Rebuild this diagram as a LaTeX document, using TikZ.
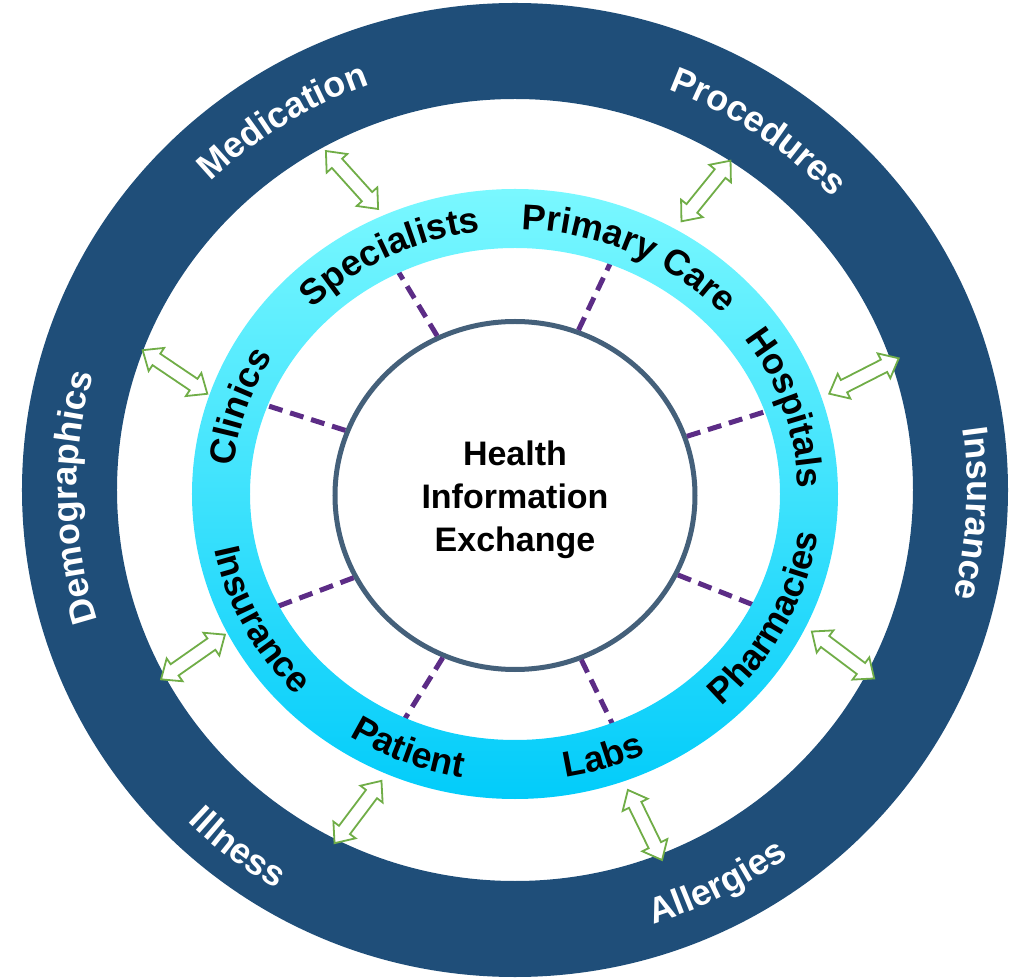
\documentclass[tikz,border=0pt]{standalone}
\usepackage{fontspec}
\setmainfont{Liberation Sans}
\usepackage{tikz}
\usetikzlibrary{shapes,arrows,positioning,decorations.text}
\definecolor{ringblue}{RGB}{31,78,121}
\definecolor{cyantop}{RGB}{122,248,255}
\definecolor{cyanbot}{RGB}{2,204,250}
\definecolor{hubline}{RGB}{68,96,122}
\definecolor{spokepurple}{RGB}{92,44,134}
\definecolor{arrowgreen}{RGB}{112,173,71}
\tikzset{%
outerring/.style={fill=ringblue, even odd rule},
cyanring/.style={top color=cyantop, bottom color=cyanbot, even odd rule},
hub/.style={ellipse, draw=hubline, line width=5pt, fill=white, minimum width=360pt, minimum height=348pt, inner sep=0pt},
hubtext/.style={align=center, font=\bfseries\fontsize{34}{43}\selectfont},
spoke/.style={draw=spokepurple, line width=5pt, dash pattern=on 14pt off 8pt},
link/.style={double arrow, draw=arrowgreen, line width=1.8pt, fill=white, minimum height=78pt, minimum width=26pt, double arrow head extend=7pt, double arrow tip angle=80, inner xsep=0pt, inner ysep=6pt},
intext/.style={decorate, decoration={text along path, text align=center, text={|\bfseries\fontsize{36}{36}\selectfont|#1}}},
outtext/.style={decorate, decoration={text along path, text align=center, text={|\color{white}\bfseries\fontsize{36}{36}\selectfont|#1}}}
}
\begin{document}
\begin{tikzpicture}[x=1pt, y=1pt]
	\useasboundingbox (-515,-489) rectangle (502,490);
	\fill[outerring] (0,0) ellipse [x radius=493pt, y radius=487pt] (0,0) ellipse [x radius=398pt, y radius=391pt];
	
	\node[hub] (hie) at (0,-5.5) {};
	
	\coordinate (rim1) at ([shift={(116:267pt and 248pt)}]0,-4);
	\coordinate (rim2) at ([shift={(69:267pt and 248pt)}]0,-4);
	\coordinate (rim3) at ([shift={(19.5:267pt and 248pt)}]0,-4);
	\coordinate (rim4) at ([shift={(-26.6:267pt and 248pt)}]0,-4);
	\coordinate (rim5) at ([shift={(-68.5:267pt and 248pt)}]0,-4);
	\coordinate (rim6) at ([shift={(-114.5:267pt and 248pt)}]0,-4);
	\coordinate (rim7) at ([shift={(-153:267pt and 248pt)}]0,-4);
	\coordinate (rim8) at ([shift={(159:267pt and 248pt)}]0,-4);
	
	\draw[spoke] (hie.116) -- (rim1);
	\draw[spoke] (hie.69) -- (rim2);
	\draw[spoke] (hie.19.5) -- (rim3);
	\draw[spoke] (hie.-26.6) -- (rim4);
	\draw[spoke] (hie.-68.5) -- (rim5);
	\draw[spoke] (hie.-114.5) -- (rim6);
	\draw[spoke] (hie.-153) -- (rim7);
	\draw[spoke] (hie.159) -- (rim8);
	
	\shade[cyanring] (0,-4) ellipse [x radius=323pt, y radius=305pt] (0,-4) ellipse [x radius=265pt, y radius=246pt];
	
	\path[intext={Specialists}] ([shift={(167:283pt and 264.5pt)}]0,-4) arc [start angle=167, end angle=67, x radius=283pt, y radius=264.5pt];
	\path[intext={Primary Care}] ([shift={(115:283pt and 264.5pt)}]0,-4) arc [start angle=115, end angle=15, x radius=283pt, y radius=264.5pt];
	\path[intext={Hospitals}] ([shift={(68:283pt and 264.5pt)}]0,-4) arc [start angle=68, end angle=-32, x radius=283pt, y radius=264.5pt];
	\path[intext={Clinics}] ([shift={(212:283pt and 264.5pt)}]0,-4) arc [start angle=212, end angle=112, x radius=283pt, y radius=264.5pt];
	\path[intext={Pharmacies}] ([shift={(-77:306pt and 287.5pt)}]0,-4) arc [start angle=-77, end angle=23, x radius=306pt, y radius=287.5pt];
	\path[intext={Labs}] ([shift={(-122:306pt and 287.5pt)}]0,-4) arc [start angle=-122, end angle=-22, x radius=306pt, y radius=287.5pt];
	\path[intext={Patient}] ([shift={(-162:306pt and 287.5pt)}]0,-4) arc [start angle=-162, end angle=-62, x radius=306pt, y radius=287.5pt];
	\path[intext={Insurance}] ([shift={(-203:306pt and 287.5pt)}]0,-4) arc [start angle=-203, end angle=-103, x radius=306pt, y radius=287.5pt];
	
	\path[outtext={Medication}] (162:436pt and 430pt) arc [start angle=162, end angle=82, x radius=436pt, y radius=430pt];
	\path[outtext={Procedures}] (96:434pt and 428pt) arc [start angle=96, end angle=16, x radius=434pt, y radius=428pt];
	\path[outtext={Insurance}] (37:452pt and 440pt) arc [start angle=37, end angle=-43, x radius=452pt, y radius=440pt];
	\path[outtext={Demographics}] (221:438pt and 430pt) arc [start angle=221, end angle=141, x radius=438pt, y radius=430pt];
	\path[outtext={Allergies}] (-103:462pt and 455pt) arc [start angle=-103, end angle=-23, x radius=462pt, y radius=455pt];
	\path[outtext={Illness}] (-167.5:470pt and 463pt) arc [start angle=-167.5, end angle=-87.5, x radius=470pt, y radius=463pt];
	
	\node[link, rotate=132] (a1) at (-163,310) {};
	\node[link, rotate=51] (a2) at (191,299) {};
	\node[link, rotate=27] (a3) at (349,114) {};
	\node[link, rotate=-37] (a4) at (328,-165) {};
	\node[link, rotate=-64] (a5) at (130,-335) {};
	\node[link, rotate=53] (a6) at (-157,-322) {};
	\node[link, rotate=35] (a7) at (-322,-167) {};
	\node[link, rotate=146] (a8) at (-340,118) {};
	
	\node[hubtext] (hielbl) at (0,-10) {Health\\Information\\Exchange};
\end{tikzpicture}
\end{document}
